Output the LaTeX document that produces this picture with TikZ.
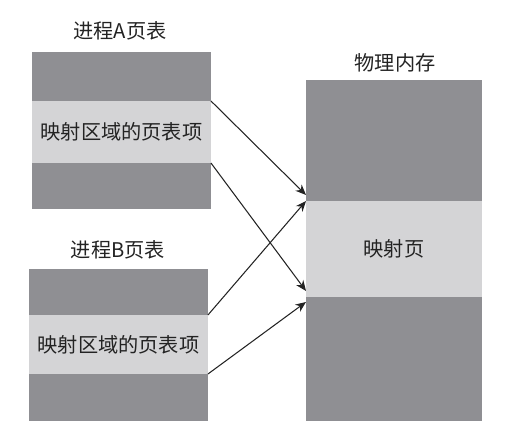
\documentclass[tikz,border=0pt]{standalone}
\usepackage{fontspec}
\setmainfont{Noto Sans CJK SC}
\usetikzlibrary{arrows.meta}
\definecolor{pagedark}{RGB}{143, 143, 147}
\definecolor{pagelight}{RGB}{212, 212, 214}
\definecolor{inkgray}{RGB}{35, 35, 35}

\begin{document}
\begin{tikzpicture}[x=0.02cm, y=-0.02cm,
  band/.style={inner sep=0pt, outer sep=0pt, anchor=north west, text=inkgray,
    font=\fontsize{11.5pt}{12pt}\selectfont},
  darkband/.style={band, fill=pagedark},
  lightband/.style={band, fill=pagelight},
  caption/.style={text=inkgray, font=\fontsize{11.5pt}{12pt}\selectfont},
  maparrow/.style={-{Stealth[length=6pt, width=5pt]}, line width=0.6pt, draw=inkgray}]
  \useasboundingbox (0, 0) rectangle (518, 432);

  % Page table of process A (x = 32 .. 211)
  \node[caption] (titleA) at (120, 31) {进程A页表};
  \node[darkband, minimum width=3.58cm, minimum height=0.98cm] (aTop) at (32, 52) {};
  \node[lightband, minimum width=3.58cm, minimum height=1.24cm] (aMid) at (32, 101) {映射区域的页表项};
  \node[darkband, minimum width=3.58cm, minimum height=0.92cm] (aBot) at (32, 163) {};

  % Page table of process B (x = 29 .. 208)
  \node[caption] (titleB) at (118, 250) {进程B页表};
  \node[darkband, minimum width=3.58cm, minimum height=0.92cm] (bTop) at (29, 269) {};
  \node[lightband, minimum width=3.58cm, minimum height=1.18cm] (bMid) at (29, 315) {映射区域的页表项};
  \node[darkband, minimum width=3.58cm, minimum height=0.94cm] (bBot) at (29, 374) {};

  % Physical memory (x = 306 .. 482)
  \node[caption] (titleMem) at (395, 63) {物理内存};
  \node[darkband, minimum width=3.52cm, minimum height=2.42cm] (memTop) at (306, 80) {};
  \node[lightband, minimum width=3.52cm, minimum height=1.92cm] (memMid) at (306, 201) {映射页};
  \node[darkband, minimum width=3.52cm, minimum height=2.48cm] (memBot) at (306, 297) {};

  % Arrow ends on the left edge of the memory block
  \coordinate (endA1) at ([yshift=0.12cm] memMid.north west);
  \coordinate (endA2) at ([yshift=0.12cm] memMid.south west);
  \coordinate (endB2) at ([yshift=-0.1cm] memMid.south west);

  % Mappings
  \draw[maparrow] (aMid.north east) -- (endA1);
  \draw[maparrow] (aMid.south east) -- (endA2);
  \draw[maparrow] (bMid.north east) -- (memMid.north west);
  \draw[maparrow] (bMid.south east) -- (endB2);
\end{tikzpicture}
\end{document}
